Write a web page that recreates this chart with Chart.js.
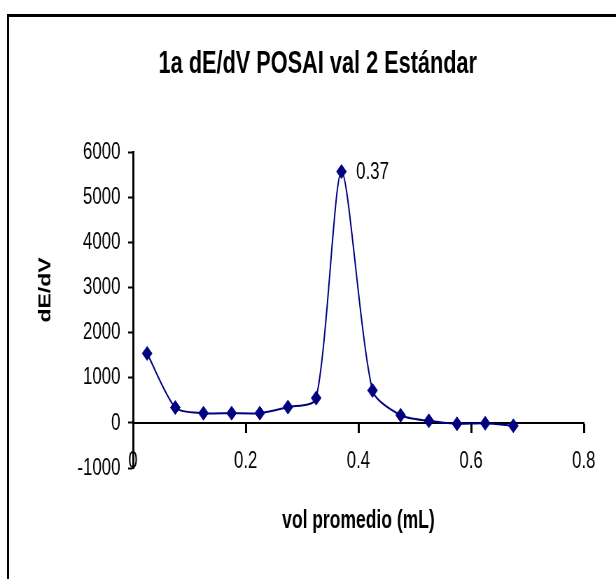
<!DOCTYPE html>
<html>
<head>
<meta charset="utf-8">
<script src="https://cdn.jsdelivr.net/npm/chart.js@4/dist/chart.umd.min.js"></script>
<style>
  html, body { margin: 0; padding: 0; background: #fff; overflow: hidden; width: 616px; height: 579px; }
  #frame { position: absolute; left: 7px; top: 14px; width: 720px; height: 720px;
           border-top: 3px solid #000; border-left: 2px solid #000; box-sizing: border-box; }
  #squeeze { position: absolute; left: 0; top: 0; transform: scaleX(0.7); transform-origin: 0 0; }
</style>
</head>
<body>
<div id="frame"></div>
<div id="squeeze"><canvas id="c" width="880" height="579"></canvas></div>
<script>
// Average volume (mL) and first derivative dE/dV
const volPromedio = [0.025, 0.075, 0.125, 0.175, 0.225, 0.275, 0.325, 0.37, 0.425, 0.475, 0.525, 0.575, 0.625, 0.675];
const dEdV        = [1540, 340, 215, 215, 215, 350, 550, 5570, 720, 170, 45, -20, -10, -65];

const chartTitle = '1a dE/dV POSAI val 2 Estándar';
const xTitle = 'vol promedio (mL)';
const yTitle = 'dE/dV';
const xTickLabels = ['0', '0.2', '0.4', '0.6', '0.8'];
const yTickLabels = ['-1000', '0', '1000', '2000', '3000', '4000', '5000', '6000'];

const peakIndex = dEdV.indexOf(Math.max(...dEdV));
const FONT = '"Liberation Sans", Arial, sans-serif';
const NAVY = '#000080';

// Peak annotation (the volume at the maximum) and vertical axis caption
const extras = {
  id: 'extras',
  afterDatasetsDraw(chart) {
    const ctx = chart.ctx;
    const pt = chart.getDatasetMeta(0).data[peakIndex];
    ctx.save();
    ctx.fillStyle = '#000';
    ctx.font = '24px ' + FONT;
    ctx.textAlign = 'left';
    ctx.textBaseline = 'middle';
    ctx.fillText(String(volPromedio[peakIndex]), pt.x + 21, pt.y + 1);
    ctx.restore();

    ctx.save();
    ctx.fillStyle = '#000';
    ctx.font = 'bold 23px ' + FONT;
    ctx.translate(66, 290);
    ctx.rotate(-Math.PI / 2);
    ctx.textAlign = 'center';
    ctx.textBaseline = 'middle';
    ctx.fillText(yTitle, 0, 0);
    ctx.restore();
  }
};

new Chart(document.getElementById('c'), {
  type: 'line',
  data: {
    datasets: [{
      data: volPromedio.map((v, i) => ({ x: v, y: dEdV[i] })),
      borderColor: NAVY,
      borderWidth: 2,
      backgroundColor: NAVY,
      pointStyle: 'rectRot',
      pointRadius: 7,
      pointBorderWidth: 1,
      pointBorderColor: NAVY,
      pointBackgroundColor: NAVY,
      tension: 0.25,
      fill: false
    }]
  },
  options: {
    responsive: false,
    animation: false,
    devicePixelRatio: 1,
    layout: { padding: { left: 28, right: 0, top: 20, bottom: 111 } },
    plugins: {
      legend: { display: false },
      tooltip: { enabled: false },
      title: {
        display: true,
        text: chartTitle,
        color: '#000',
        font: { family: FONT, size: 31, weight: 'bold' },
        padding: { top: 26, bottom: 69 }
      }
    },
    scales: {
      x: {
        type: 'linear',
        position: { y: 0 },
        min: 0,
        max: 0.8,
        afterFit(s) { s.paddingRight = 46; },
        border: { display: true, color: '#000', width: 2 },
        grid: { drawOnChartArea: false, drawTicks: true, tickLength: 9, tickColor: '#000', tickWidth: 3 },
        ticks: {
          stepSize: 0.2,
          padding: 15,
          color: '#000',
          font: { family: FONT, size: 24 },
          callback: (v) => xTickLabels[Math.round(v / 0.2)] ?? ''
        },
        title: {
          display: true,
          text: xTitle,
          color: '#000',
          font: { family: FONT, size: 25, weight: 'bold' },
          padding: { top: 15, bottom: 4 }
        }
      },
      y: {
        type: 'linear',
        position: 'left',
        min: -1000,
        max: 6000,
        afterFit(s) { s.width = 162; },
        border: { display: true, color: '#000', width: 3 },
        grid: { drawOnChartArea: false, drawTicks: true, tickLength: 7, tickColor: '#000', tickWidth: 2 },
        ticks: {
          stepSize: 1000,
          padding: 11,
          color: '#000',
          font: { family: FONT, size: 24 },
          callback: (v) => yTickLabels[Math.round((v + 1000) / 1000)] ?? ''
        }
      }
    }
  },
  plugins: [extras]
});
</script>
</body>
</html>
